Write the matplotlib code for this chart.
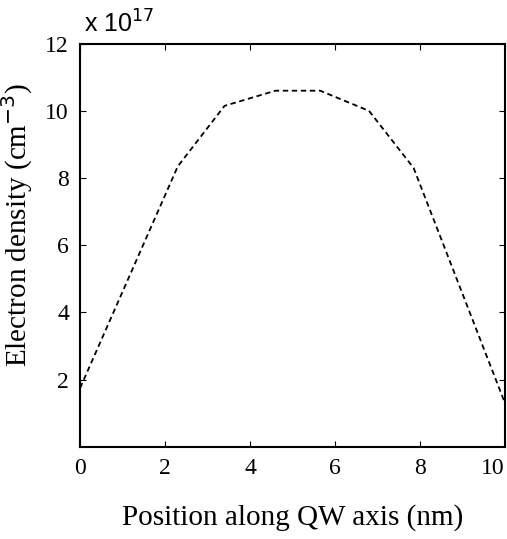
import matplotlib
matplotlib.use("Agg")
from matplotlib import pyplot as plt

# electron density profile across the quantum well
position_nm = [0.0, 2.3, 3.4, 4.6, 5.65, 6.8, 7.85, 10.0]
density_1e17 = [1.75, 8.35, 10.15, 10.6, 10.6, 10.0, 8.3, 1.3]

x_ticks = [0, 2, 4, 6, 8, 10]
y_ticks = [2, 4, 6, 8, 10, 12]

plt.rcParams["font.family"] = ["Liberation Serif", "DejaVu Serif"]

fig = plt.figure(figsize=(5.07, 5.39), dpi=100)
ax = fig.add_axes([0.158, 0.171, 0.838, 0.748])

ax.plot(position_nm, density_1e17, color="black", linestyle=(0, (3, 2)), linewidth=1.3)

ax.set_xlim(0, 10)
ax.set_ylim(0, 12)
ax.set_xticks(x_ticks)
ax.set_yticks(y_ticks)
ax.tick_params(direction="in", top=True, right=True, length=4, labelsize=17, pad=8)
# the last x label sits flush with the right edge, as in the scan
ax.get_xticklabels()[-1].set_horizontalalignment("right")
for spine in ax.spines.values():
    spine.set_linewidth(1.5)

ax.set_xlabel("Position along QW axis (nm)", fontsize=21, labelpad=18)
ax.set_ylabel("Electron density (cm$^{-3}$)", fontsize=21)
ax.yaxis.set_label_coords(-0.105, 0.55)
ax.text(0.01, 1.015, "x 10$^{17}$", transform=ax.transAxes, fontsize=18,
        family="Liberation Sans", ha="left", va="bottom")

fig.savefig("out.png", dpi=100)
